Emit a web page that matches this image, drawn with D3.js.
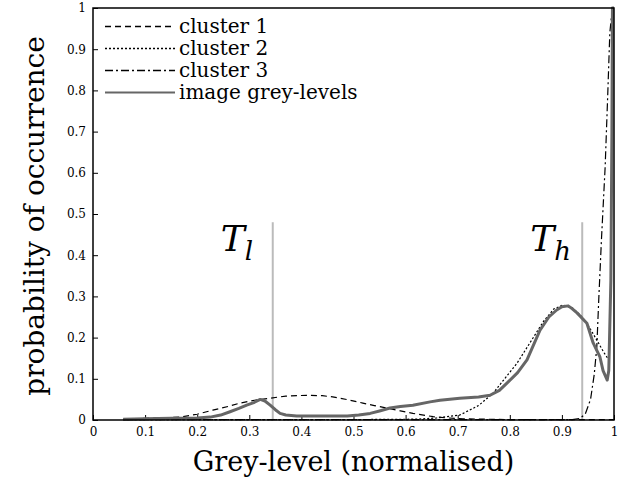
<!DOCTYPE html>
<html>
<head>
<meta charset="utf-8">
<script src="https://cdn.jsdelivr.net/npm/d3@7"></script>
<style>
  body { margin: 0; background: #fff; }
  svg text { font-family: "DejaVu Serif", serif; }
</style>
</head>
<body>
<div id="chart"></div>
<script>
// cluster 1 (dashed)
const cluster1X = [0.058, 0.1, 0.167, 0.2, 0.23, 0.26, 0.282, 0.31, 0.34, 0.37, 0.41, 0.44, 0.46, 0.49, 0.518, 0.54, 0.564, 0.59, 0.614, 0.653, 0.68, 0.71, 0.75, 0.8, 0.9, 1.0];
const cluster1Y = [0.002, 0.004, 0.007, 0.014, 0.024, 0.033, 0.041, 0.048, 0.053, 0.058, 0.06, 0.059, 0.056, 0.049, 0.041, 0.035, 0.029, 0.022, 0.016, 0.008, 0.005, 0.003, 0.002, 0.001, 0.001, 0.001];

// cluster 2 (dotted)
const cluster2X = [0.058, 0.3, 0.5, 0.62, 0.66, 0.704, 0.74, 0.768, 0.79, 0.814, 0.84, 0.865, 0.885, 0.902, 0.92, 0.935, 0.948, 0.967, 0.98, 0.993];
const cluster2Y = [0.001, 0.001, 0.001, 0.002, 0.005, 0.012, 0.035, 0.065, 0.1, 0.138, 0.19, 0.24, 0.27, 0.279, 0.272, 0.255, 0.235, 0.194, 0.165, 0.14];

// cluster 3 (dash-dot)
const cluster3X = [0.058, 0.5, 0.92, 0.935, 0.945, 0.955, 0.962, 0.967, 0.971, 0.976, 0.983, 0.988, 0.992, 0.996, 0.999];
const cluster3Y = [0.001, 0.001, 0.001, 0.004, 0.015, 0.05, 0.11, 0.177, 0.3, 0.44, 0.614, 0.79, 0.94, 0.99, 1.0];

// image grey-levels (solid grey)
const greyX = [0.058, 0.1, 0.15, 0.2, 0.225, 0.245, 0.263, 0.28, 0.295, 0.31, 0.321, 0.33, 0.34, 0.35, 0.359, 0.37, 0.391, 0.44, 0.488, 0.51, 0.532, 0.55, 0.57, 0.59, 0.614, 0.647, 0.666, 0.704, 0.74, 0.762, 0.78, 0.795, 0.815, 0.833, 0.858, 0.875, 0.89, 0.9, 0.912, 0.92, 0.929, 0.948, 0.96, 0.973, 0.979, 0.987, 0.99, 0.994, 0.996, 0.997, 1.0];
const greyY = [0.002, 0.003, 0.004, 0.005, 0.007, 0.012, 0.02, 0.028, 0.036, 0.043, 0.05, 0.046, 0.036, 0.025, 0.016, 0.012, 0.01, 0.01, 0.01, 0.012, 0.016, 0.022, 0.029, 0.033, 0.036, 0.044, 0.048, 0.053, 0.056, 0.06, 0.072, 0.09, 0.115, 0.146, 0.218, 0.25, 0.267, 0.275, 0.277, 0.27, 0.26, 0.235, 0.187, 0.153, 0.12, 0.097, 0.12, 0.34, 0.7, 1.0, 1.0];

// thresholds
const thresholdNames = ["l", "h"];
const thresholdX = [0.345, 0.939];
const thresholdTop = 0.48;

const xTicks = [0, 0.1, 0.2, 0.3, 0.4, 0.5, 0.6, 0.7, 0.8, 0.9, 1];
const yTicks = [0, 0.1, 0.2, 0.3, 0.4, 0.5, 0.6, 0.7, 0.8, 0.9, 1];

const legendNames = ["cluster 1", "cluster 2", "cluster 3", "image grey-levels"];

const width = 634, height = 494;
const margin = { top: 8, right: 20, bottom: 74, left: 93 };

const svg = d3.select("#chart").append("svg")
  .attr("width", width)
  .attr("height", height);

const x = d3.scaleLinear().domain([0, 1]).range([margin.left, width - margin.right]);
const y = d3.scaleLinear().domain([0, 1]).range([height - margin.bottom, margin.top]);

const styles = [
  { stroke: "#000", width: 1.2, dash: "6,4" },
  { stroke: "#000", width: 1.2, dash: "2,2" },
  { stroke: "#000", width: 1.2, dash: "8,3,2,3" },
  { stroke: "#666", width: 3, dash: null },
];

const series = [
  cluster1X.map((d, i) => [d, cluster1Y[i]]),
  cluster2X.map((d, i) => [d, cluster2Y[i]]),
  cluster3X.map((d, i) => [d, cluster3Y[i]]),
  greyX.map((d, i) => [d, greyY[i]]),
];

const fmt = d => d === 0 || d === 1 ? d3.format("d")(d) : d3.format(".1f")(d);

// axes with inward ticks
const gx = svg.append("g")
  .attr("transform", `translate(0,${y(0)})`)
  .call(d3.axisBottom(x).tickValues(xTicks).tickSize(-5).tickPadding(7).tickFormat(fmt));
const gy = svg.append("g")
  .attr("transform", `translate(${x(0)},0)`)
  .call(d3.axisLeft(y).tickValues(yTicks).tickSize(-5).tickPadding(7).tickFormat(fmt));
[gx, gy].forEach(g => {
  g.attr("font-size", 12);
  g.select(".domain").remove();
  g.selectAll("text").attr("fill", "#000");
  g.selectAll("line").attr("stroke", "#000");
});

// threshold lines
svg.append("g").selectAll("line")
  .data(thresholdX)
  .join("line")
  .attr("x1", d => x(d)).attr("x2", d => x(d))
  .attr("y1", y(0)).attr("y2", y(thresholdTop))
  .attr("stroke", "#bbb")
  .attr("stroke-width", 2);

const line = d3.line().x(d => x(d[0])).y(d => y(d[1]));

svg.append("g").selectAll("path")
  .data(series)
  .join("path")
  .attr("d", line)
  .attr("fill", "none")
  .attr("stroke", (d, i) => styles[i].stroke)
  .attr("stroke-width", (d, i) => styles[i].width)
  .attr("stroke-dasharray", (d, i) => styles[i].dash)
  .attr("stroke-linejoin", "round");

// frame
svg.append("rect")
  .attr("x", x(0)).attr("y", y(1))
  .attr("width", x(1) - x(0)).attr("height", y(0) - y(1))
  .attr("fill", "none")
  .attr("stroke", "#000")
  .attr("stroke-width", 1.5);

// threshold labels
const tl = svg.append("g").selectAll("text")
  .data(thresholdX)
  .join("text")
  .attr("x", d => x(d) - 52)
  .attr("y", y(0.41))
  .attr("font-size", 36)
  .attr("font-style", "italic");
tl.append("tspan").text("T");
tl.append("tspan").attr("dy", 9).attr("font-size", 26).text((d, i) => thresholdNames[i]);

// legend
const legend = svg.append("g").attr("transform", `translate(${x(0) + 12},${y(0.955)})`);
const rows = legend.selectAll("g")
  .data(legendNames)
  .join("g")
  .attr("transform", (d, i) => `translate(0,${i * 22})`);
rows.append("line")
  .attr("x1", 0).attr("x2", 70)
  .attr("stroke", (d, i) => styles[i].stroke)
  .attr("stroke-width", (d, i) => i === 3 ? 2 : 1.5)
  .attr("stroke-dasharray", (d, i) => styles[i].dash);
rows.append("text")
  .attr("x", 74)
  .attr("dy", "0.32em")
  .attr("font-size", 20)
  .text(d => d);

// axis titles
svg.append("text")
  .attr("x", (x(0) + x(1)) / 2)
  .attr("y", 471)
  .attr("text-anchor", "middle")
  .attr("font-size", 27)
  .text("Grey-level (normalised)");

svg.append("text")
  .attr("transform", `translate(44,${(y(0) + y(1)) / 2 + 2}) rotate(-90)`)
  .attr("text-anchor", "middle")
  .attr("font-size", 28)
  .text("probability of occurrence");
</script>
</body>
</html>
